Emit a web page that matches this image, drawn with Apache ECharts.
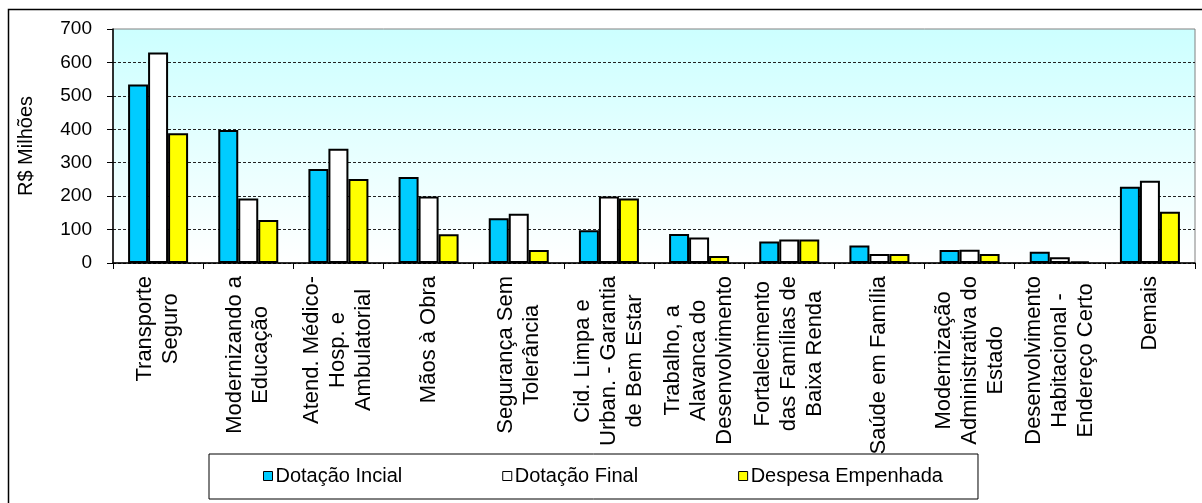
<!DOCTYPE html>
<html>
<head>
<meta charset="utf-8">
<script src="https://cdn.jsdelivr.net/npm/echarts@6/dist/echarts.min.js"></script>
<style>
  html, body { margin: 0; padding: 0; background: #fff; }
  #chart { width: 1202px; height: 503px; }
</style>
</head>
<body>
<div id="chart"></div>
<script>
// Programas (categorias do eixo X)
const categories = [
  'Transporte\nSeguro',
  'Modernizando a\nEducação',
  'Atend. Médico-\nHosp. e\nAmbulatorial',
  'Mãos à Obra',
  'Segurança Sem\nTolerância',
  'Cid. Limpa e\nUrban. - Garantia\nde Bem Estar',
  'Trabalho, a\nAlavanca do\nDesenvolvimento',
  'Fortalecimento\ndas Famílias de\nBaixa Renda',
  'Saúde em Família',
  'Modernização\nAdministrativa do\nEstado',
  'Desenvolvimento\nHabitacional -\nEndereço Certo',
  'Demais'
];

// Valores em R$ milhões
const dotacaoInicial = [534, 398, 281, 257, 134, 98, 87, 64, 52, 39, 34, 228];
const dotacaoFinal   = [630, 193, 342, 199, 147, 199, 76, 70, 27, 40, 17, 246];
const despesaEmpenhada = [388, 129, 251, 86, 39, 193, 21, 70, 27, 27, 5, 153];

const seriesNames = ['Dotação Incial', 'Dotação Final', 'Despesa Empenhada'];
const yTicks = [0, 100, 200, 300, 400, 500, 600, 700];

const FONT = "'Liberation Sans', Arial, sans-serif";

const chart = echarts.init(document.getElementById('chart'), null, { renderer: 'canvas' });

function barSeries(name, data, color) {
  return {
    name: name,
    type: 'bar',
    data: data,
    barWidth: 20,
    barGap: '0%',
    itemStyle: { color: color, borderColor: '#000', borderWidth: 2 },
    emphasis: { disabled: true },
    animation: false
  };
}

chart.setOption({
  animation: false,
  textStyle: { fontFamily: FONT, color: '#000' },
  graphic: [{
    type: 'rect',
    shape: { x: 8.5, y: 9.5, width: 1300, height: 1000 },
    style: { fill: 'none', stroke: '#000', lineWidth: 1.5 },
    z: 100,
    silent: true
  }],
  grid: {
    left: 113,
    right: 7,
    top: 29,
    bottom: 240,
    show: true,
    borderColor: '#808080',
    borderWidth: 1,
    backgroundColor: new echarts.graphic.LinearGradient(0, 0, 0, 1, [
      { offset: 0, color: '#CCFFFF' },
      { offset: 1, color: '#FFFFFF' }
    ])
  },
  legend: {
    data: seriesNames,
    left: 209,
    top: 454,
    orient: 'horizontal',
    padding: [12, 35, 13, 54],
    borderColor: '#000',
    borderWidth: 1,
    itemGap: 100,
    itemWidth: 9,
    itemHeight: 9,
    icon: 'rect',
    itemStyle: { borderColor: '#000', borderWidth: 1 },
    textStyle: { fontFamily: FONT, fontSize: 20, color: '#000', padding: [0, 0, 0, -2] },
    selectedMode: false
  },
  xAxis: {
    type: 'category',
    data: categories,
    boundaryGap: true,
    axisLine: { show: true, lineStyle: { color: '#000', width: 1.5 } },
    axisTick: { show: true, alignWithLabel: false, length: 6, lineStyle: { color: '#000', width: 1 } },
    axisLabel: {
      interval: 0,
      rotate: 90,
      margin: 13,
      color: '#000',
      fontFamily: FONT,
      fontSize: 22,
      formatter: function (v) {
        return v.split('\n').map(function (s) { return '{c|' + s + '}'; }).join('\n');
      },
      rich: {
        c: { align: 'center', fontFamily: FONT, fontSize: 22, lineHeight: 26, color: '#000' }
      }
    },
    splitLine: { show: false }
  },
  yAxis: {
    type: 'value',
    min: 0,
    max: 700,
    interval: 100,
    name: 'R$ Milhões',
    nameLocation: 'middle',
    nameRotate: 90,
    nameGap: 77,
    nameTextStyle: { fontFamily: FONT, fontSize: 20, color: '#000' },
    axisLine: { show: true, lineStyle: { color: '#000', width: 1.5 } },
    axisTick: { show: true, length: 6, lineStyle: { color: '#000', width: 1 } },
    axisLabel: {
      margin: 21,
      color: '#000',
      fontFamily: FONT,
      fontSize: 19,
      formatter: function (v) { return yTicks.indexOf(v) >= 0 ? String(v) : ''; }
    },
    splitLine: {
      show: true,
      lineStyle: {
        color: ['#000', '#222', '#222', '#222', '#222', '#222', '#222', 'rgba(0,0,0,0)'],
        type: [3, 2],
        width: 1
      }
    }
  },
  series: [
    barSeries(seriesNames[0], dotacaoInicial, '#00CCFF'),
    barSeries(seriesNames[1], dotacaoFinal, '#FFFFFF'),
    barSeries(seriesNames[2], despesaEmpenhada, '#FFFF00')
  ]
});
</script>
</body>
</html>
